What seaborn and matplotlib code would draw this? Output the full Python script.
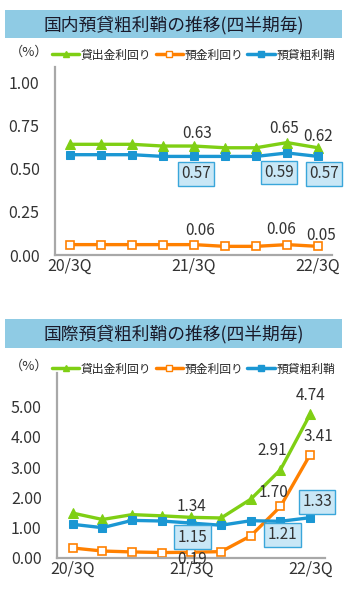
import numpy as np
import pandas as pd
import seaborn as sns
import matplotlib.pyplot as plt
from matplotlib.lines import Line2D
from matplotlib.patches import Rectangle

quarters = ["20/3Q", "20/4Q", "21/1Q", "21/2Q", "21/3Q", "21/4Q", "22/1Q", "22/2Q", "22/3Q"]
tick_labels = ["20/3Q", "21/3Q", "22/3Q"]

dom_lending = [0.64, 0.64, 0.64, 0.63, 0.63, 0.62, 0.62, 0.65, 0.62]
dom_deposit = [0.06, 0.06, 0.06, 0.06, 0.06, 0.05, 0.05, 0.06, 0.05]
dom_spread = [0.58, 0.58, 0.58, 0.57, 0.57, 0.57, 0.57, 0.59, 0.57]

intl_lending = [1.48, 1.27, 1.43, 1.39, 1.34, 1.32, 1.94, 2.91, 4.74]
intl_deposit = [0.33, 0.23, 0.20, 0.18, 0.19, 0.21, 0.73, 1.70, 3.41]
intl_spread = [1.11, 1.00, 1.24, 1.22, 1.15, 1.08, 1.23, 1.21, 1.33]

series_names = ["貸出金利回り", "預金利回り", "預貸粗利鞘"]

GREEN = "#7fcf14"
ORANGE = "#ff8000"
BLUE = "#1b97d3"
BANNER = "#8fcbe4"
AXIS = "#a8a8a8"
TEXT = "#333333"

sns.set_theme(style="white")
plt.rcParams['font.family'] = ['Noto Sans CJK JP', 'DejaVu Sans']

fig = plt.figure(figsize=(3.51, 5.93), dpi=100)
W, H = 351, 593


def fx(px):
    return px / W


def fy(py):
    return 1 - py / H


def banner(y0, y1, title):
    fig.patches.append(Rectangle((fx(5), fy(y1)), fx(337), (y1 - y0) / H,
                                 transform=fig.transFigure, facecolor=BANNER,
                                 edgecolor='none'))
    fig.text(fx(174), fy((y0 + y1) / 2 + 1), title, ha='center', va='center',
             fontsize=12.8, color='#1a1a2a')


def legend(y):
    fig.text(fx(29), fy(y - 3), "（%）", ha='center', va='center', fontsize=9.5, color=TEXT)
    handles = [
        Line2D([], [], color=GREEN, lw=2.5, marker='^', markersize=5),
        Line2D([], [], color=ORANGE, lw=2.5, marker='s', markersize=4.5,
               markerfacecolor='white', markeredgecolor=ORANGE),
        Line2D([], [], color=BLUE, lw=2.5, marker='s', markersize=4.5),
    ]
    fig.legend(handles, series_names, loc='center left', bbox_to_anchor=(fx(52), fy(y)),
               ncol=3, frameon=False, fontsize=8.5, handlelength=2.3, handletextpad=0.15,
               columnspacing=0.35, borderaxespad=0, borderpad=0)


def draw(ax, lending, deposit, spread, ylim, yticks, xlim):
    x = np.arange(len(quarters))
    sns.lineplot(x=x, y=lending, ax=ax, color=GREEN, lw=2.4, marker='^',
                 markersize=6.5, markeredgecolor=GREEN)
    sns.lineplot(x=x, y=deposit, ax=ax, color=ORANGE, lw=2.4, marker='s',
                 markersize=5.5, markerfacecolor='white', markeredgecolor=ORANGE,
                 markeredgewidth=1.2)
    sns.lineplot(x=x, y=spread, ax=ax, color=BLUE, lw=2.4, marker='s',
                 markersize=5.5, markeredgecolor=BLUE)
    ax.set_xlim(*xlim)
    ax.set_ylim(*ylim)
    ax.set_yticks(yticks)
    ax.set_yticklabels([f"{v:.2f}" for v in yticks])
    ax.set_xticks([0, 4, 8])
    ax.set_xticklabels(tick_labels)
    ax.tick_params(axis='both', length=0, labelsize=11.5, colors=TEXT)
    ax.tick_params(axis='y', pad=11)
    ax.tick_params(axis='x', pad=2)
    sns.despine(ax=ax)
    for s in ['left', 'bottom']:
        ax.spines[s].set_color(AXIS)
        ax.spines[s].set_linewidth(1.6)
    ax.set_xlabel("")
    ax.set_ylabel("")


def label(ax, i, values, dx, dy, boxed=False):
    kw = dict(ha='center', va='center', fontsize=11, color=TEXT,
              textcoords='offset points')
    if boxed:
        kw['bbox'] = dict(boxstyle='square,pad=0.22', facecolor='#c9e7f6',
                          edgecolor='#3aa6da', linewidth=1)
    ax.annotate(f"{values[i]:.2f}", (i, values[i]), xytext=(dx, dy), **kw)


# domestic
banner(10, 38, "国内預貸粗利鞘の推移(四半期毎)")
legend(55)
ax1 = fig.add_axes([fx(55), fy(255), fx(277), (255 - 67) / H])
draw(ax1, dom_lending, dom_deposit, dom_spread, (0, 1.087),
     [0.0, 0.25, 0.5, 0.75, 1.0], (-0.48, 8.45))
label(ax1, 4, dom_lending, 2, 9)
label(ax1, 7, dom_lending, -2, 10)
label(ax1, 8, dom_lending, 0, 8)
label(ax1, 4, dom_spread, 1.4, -12.4, boxed=True)
label(ax1, 7, dom_spread, -5.8, -14, boxed=True)
label(ax1, 8, dom_spread, 4.3, -12.4, boxed=True)
label(ax1, 4, dom_deposit, 4.3, 10)
label(ax1, 7, dom_deposit, -4.3, 11)
label(ax1, 8, dom_deposit, 2, 8)

# international
banner(319, 348, "国際預貸粗利鞘の推移(四半期毎)")
legend(369)
ax2 = fig.add_axes([fx(57), fy(558), fx(268), (558 - 373) / H])
draw(ax2, intl_lending, intl_deposit, intl_spread, (0, 6.1),
     [0, 1, 2, 3, 4, 5], (-0.53, 8.5))
label(ax2, 4, intl_lending, 0, 8)
label(ax2, 7, intl_lending, -6, 13.5)
label(ax2, 8, intl_lending, 0, 13.7)
label(ax2, 4, intl_deposit, 0.7, -5)
label(ax2, 7, intl_deposit, -5, 10)
label(ax2, 8, intl_deposit, 6, 13)
label(ax2, 4, intl_spread, 0.7, -10, boxed=True)
label(ax2, 7, intl_spread, 1.4, -9.7, boxed=True)
label(ax2, 8, intl_spread, 5, 11.5, boxed=True)

fig.savefig("out.png", dpi=100)
